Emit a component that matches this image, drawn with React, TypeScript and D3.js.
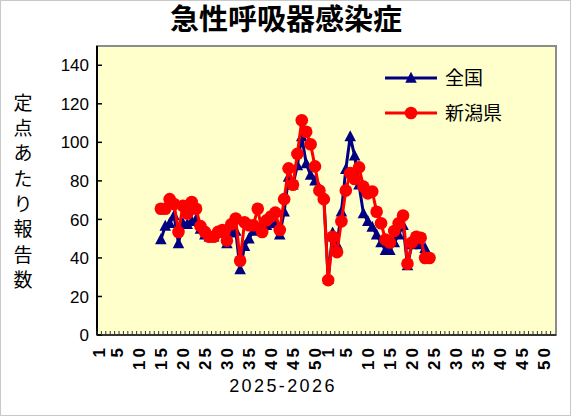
import React from 'react'
import * as d3 from 'd3'

// categories: ISO week numbers of each year, shown one after another
const years = ['2025', '2026']
const weeksPerYear = 52
const tickWeeks = [1, 5, 10, 15, 20, 25, 30, 35, 40, 45, 50]
const yTicks = [0, 20, 40, 60, 80, 100, 120, 140]

// first reported week of the season (2025 week 15)
const startWeek = 15

// 全国 (national)
const national2025 = [49.5, 56.5, 58, 62, 47.5, 58, 57.5, 59, 60, 55, 52, 51, 51, 53, 53, 47.5, 53, 54, 34, 46,
  50, 54, 55, 57, 57, 58, 59, 52, 64, 82, 78, 88, 103, 89, 83, 80, 76, 72]
const national2026 = [29, 53, 47, 64, 86, 103, 93, 78, 63, 59, 56, 52, 48, 44, 44, 48, 52, 57, 36, 47, 48, 47, 45]

// 新潟県 (Niigata)
const niigata2025 = [65.5, 65.5, 70.5, 68, 53.5, 67, 63, 69, 65.5, 56.5, 53.5, 51, 51, 53.5, 54.5, 49, 57.5, 60.5, 38.5, 58.5,
  57, 57, 65.5, 53.5, 59.5, 61.5, 63.5, 54.5, 70.5, 86.5, 78, 94, 111.5, 105.5, 99, 87.5, 75, 70.5]
const niigata2026 = [28.5, 51, 43, 59, 75, 84, 81, 87, 77, 73.5, 74.5, 64, 58, 49.5, 48, 54, 58, 62, 37, 48, 51, 50.5, 40, 40]

const W = 571
const H = 416
const plot = { left: 97, right: 555, top: 46, bottom: 335 }

const categories: string[] = []
years.forEach(y => { for (let w = 1; w <= weeksPerYear; w++) categories.push(`${y}-${w}`) })

const toPoints = (a: number[], b: number[]) => [
  ...a.map((v, i) => ({ key: `${years[0]}-${startWeek + i}`, v })),
  ...b.map((v, i) => ({ key: `${years[1]}-${i + 1}`, v }))
]

const series = [
  { name: '全国', color: '#000080', marker: 'triangle', data: toPoints(national2025, national2026) },
  { name: '新潟県', color: '#FF0000', marker: 'circle', data: toPoints(niigata2025, niigata2026) }
]

const sans = '"Liberation Sans", Arial, sans-serif'
const cjk = '"Noto Sans CJK JP", sans-serif'
// title: Latin font first so the line box stays inside the picture, CJK glyphs fall back
const titleFont = '"Liberation Sans", "Noto Sans CJK JP", sans-serif'

const tri = (cx: number, cy: number, s: number) =>
  `M${cx},${cy - s * 0.6}L${cx + s * 0.55},${cy + s * 0.45}L${cx - s * 0.55},${cy + s * 0.45}Z`

const Marker = ({ kind, x, y, color }: { kind: string, x: number, y: number, color: string }) =>
  kind === 'circle'
    ? <circle cx={x} cy={y} r={6.3} fill={color} />
    : <path d={tri(x, y, 10.5)} fill={color} />

export default function App() {
  const x = d3.scaleBand<string>().domain(categories).range([plot.left, plot.right])
  const y = d3.scaleLinear().domain([0, 150]).range([plot.bottom, plot.top])
  const cx = (k: string) => (x(k) ?? 0) + x.bandwidth() / 2

  const line = d3.line<{ key: string, v: number }>().x(d => cx(d.key)).y(d => y(d.v))

  const legend = [
    { ...series[0], ly: 78 },
    { ...series[1], ly: 113 }
  ]

  return (
    <svg width={W} height={H} style={{ position: 'absolute', left: 0, top: 0, background: '#fff' }}>
      <rect x={0.5} y={0.5} width={W - 1} height={H - 1} fill="#fff" stroke="#c8c8c8" />
      <text x={286} y={30} textAnchor="middle" fontFamily={titleFont} fontWeight="bold" fontSize={29}>急性呼吸器感染症</text>

      {/* plot area */}
      <rect x={plot.left} y={plot.top} width={plot.right - plot.left + 1} height={plot.bottom - plot.top}
        fill="#FFFFCC" stroke="#8c8c8c" strokeWidth={2} />
      <line x1={plot.left} x2={plot.left} y1={plot.top} y2={plot.bottom} stroke="#000" strokeWidth={2} />
      <line x1={plot.left} x2={plot.right + 1} y1={plot.bottom} y2={plot.bottom} stroke="#333" strokeWidth={2} />

      {/* y axis */}
      {yTicks.map(t => (
        <g key={t}>
          <line x1={plot.left} x2={plot.left + 5} y1={y(t)} y2={y(t)} stroke="#000" strokeWidth={1.5} />
          <text x={89} y={y(t)} dy="0.36em" textAnchor="end" fontFamily={sans} fontSize={17}>{t}</text>
        </g>
      ))}
      {Array.from('定点あたり報告数').map((c, i) => (
        <text key={i} x={23} y={103 + i * 25.3} dy="0.36em" textAnchor="middle" fontFamily={cjk} fontSize={19}>{c}</text>
      ))}

      {/* x axis */}
      {categories.map(k => (
        <line key={k} x1={x(k)} x2={x(k)} y1={plot.bottom} y2={plot.bottom - 4} stroke="#333" strokeWidth={1} />
      ))}
      {years.flatMap(yr => tickWeeks.map(w => {
        const k = `${yr}-${w}`
        return (
          <text key={k} transform={`translate(${cx(k)},345) rotate(-90)`} textAnchor="end" dy="0.36em"
            fontFamily={sans} fontWeight="bold" fontSize={17} letterSpacing={3}>{w}</text>
        )
      }))}
      <text x={283} y={392} textAnchor="middle" fontFamily={sans} fontSize={18} letterSpacing={2.4}>2025-2026</text>

      {/* series */}
      {series.map(s => (
        <g key={s.name}>
          <path d={line(s.data) ?? ''} fill="none" stroke={s.color} strokeWidth={3} strokeLinejoin="round" />
          {s.data.map(d => <Marker key={d.key} kind={s.marker} x={cx(d.key)} y={y(d.v)} color={s.color} />)}
        </g>
      ))}

      {/* legend */}
      {legend.map(s => (
        <g key={s.name}>
          <line x1={385} x2={437} y1={s.ly} y2={s.ly} stroke={s.color} strokeWidth={3} />
          <Marker kind={s.marker} x={411} y={s.ly} color={s.color} />
          <text x={445} y={s.ly} dy="0.36em" fontFamily={cjk} fontSize={19}>{s.name}</text>
        </g>
      ))}
    </svg>
  )
}
